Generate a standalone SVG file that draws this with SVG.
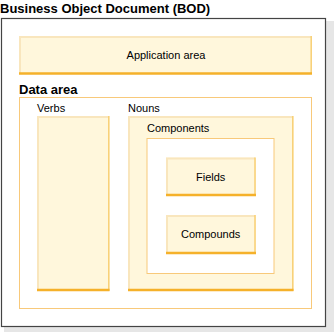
<svg xmlns="http://www.w3.org/2000/svg" width="334" height="332" viewBox="0 0 334 332">
<style>
text{font-family:"Liberation Sans",Arial,sans-serif;fill:#000}
.b{font-weight:bold;font-size:13px}
.r{font-size:11px}
.fill{fill:#fff7dc}
.tl{stroke:#f9e6bd;stroke-width:2;fill:none}
.rt{stroke:#f8cf74;stroke-width:1.5;fill:none}
.bt{stroke:#f5b12a;stroke-width:2.5;fill:none}
.frame{fill:none;stroke:#f8c97a;stroke-width:1}
</style>
<rect x="4" y="21" width="330" height="311" fill="#e6e6e6"/>
<rect x="1.5" y="18.5" width="324" height="308" fill="#fff" stroke="#444" stroke-width="1.2"/>
<text class="b" x="0" y="13">Business Object Document (BOD)</text>
<g id="application-area">
<rect class="fill" x="19" y="36" width="293" height="38"/>
<path class="tl" d="M20 74V37H311"/>
<path class="rt" d="M311.2 36V74"/>
<path class="bt" d="M19 73.5H312"/>
<text class="r" x="166" y="59" text-anchor="middle">Application area</text>
</g>
<g id="data-area">
<text class="b" x="19" y="94">Data area</text>
<rect class="frame" x="19.5" y="97.5" width="292" height="211"/>
</g>
<g id="verbs">
<text class="r" x="37" y="112">Verbs</text>
<rect class="fill" x="37" y="116" width="72.5" height="175"/>
<path class="tl" d="M38 291V117H109"/>
<path class="rt" d="M108.8 116V291"/>
<path class="bt" d="M37 290H109.5"/>
</g>
<g id="nouns">
<text class="r" x="128" y="112">Nouns</text>
<rect class="fill" x="128" y="116" width="165.5" height="175"/>
<path class="tl" d="M129 291V117H293"/>
<path class="rt" d="M292.8 116V291"/>
<path class="bt" d="M128 290H293.5"/>
</g>
<g id="components">
<text class="r" x="147" y="132">Components</text>
<rect x="147" y="138.5" width="127" height="135" fill="#fff" stroke="#f8c97a" stroke-width="1"/>
</g>
<g id="fields">
<rect class="fill" x="166" y="157.5" width="90" height="38.5"/>
<path class="tl" d="M167 196V158.5H255"/>
<path class="rt" d="M255 157.5V196"/>
<path class="bt" d="M166 195H256"/>
<text class="r" x="210.7" y="181" text-anchor="middle">Fields</text>
</g>
<g id="compounds">
<rect class="fill" x="166" y="215" width="90" height="39"/>
<path class="tl" d="M167 254V216H255"/>
<path class="rt" d="M255 215V254"/>
<path class="bt" d="M166 253H256"/>
<text class="r" x="210.7" y="238" text-anchor="middle">Compounds</text>
</g>
<g id="connectors"/>
</svg>
